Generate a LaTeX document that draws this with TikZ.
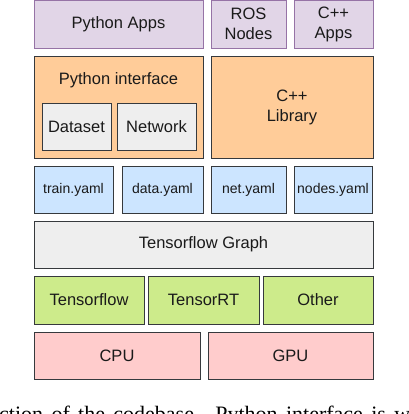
\documentclass[tikz,border=0pt]{standalone}
\usepackage{fontspec}
\setmainfont{Liberation Sans}
\newfontfamily\capserif{Liberation Serif}
\definecolor{purfill}{HTML}{E1D5E7}
\definecolor{purline}{HTML}{9673A6}
\definecolor{orafill}{HTML}{FFCC99}
\definecolor{darkline}{HTML}{36393D}
\definecolor{greyfill}{HTML}{EEEEEE}
\definecolor{bluefill}{HTML}{CCE5FF}
\definecolor{greenfill}{HTML}{CDEB8B}
\definecolor{redfill}{HTML}{FFCCCC}
\definecolor{txt}{HTML}{1A1A1A}
\tikzset{
  blk/.style={draw=darkline, line width=0.9pt, inner sep=0pt, align=center, text=txt,
    font=\fontsize{16.5}{20}\selectfont},
  purbox/.style={blk, draw=purline, fill=purfill},
  orabox/.style={blk, fill=orafill},
  greybox/.style={blk, fill=greyfill},
  bluebox/.style={blk, fill=bluefill, font=\fontsize{14}{17}\selectfont},
  greenbox/.style={blk, fill=greenfill},
  redbox/.style={blk, fill=redfill},
}
\begin{document}
\begin{tikzpicture}[x=1pt,y=-1pt]
\useasboundingbox (0,0) rectangle (408,414);
\clip (0,0) rectangle (408,414);
% row 1
\node[purbox, minimum width=169pt, minimum height=47.5pt] (pyapps) at (118.5,24.25) {Python Apps};
\node[purbox, minimum width=75pt, minimum height=47.5pt] (ros) at (248.5,24.25) {ROS\\Nodes};
\node[purbox, minimum width=79pt, minimum height=47.5pt] (cppapps) at (333.5,24.25) {C++\\Apps};
% row 2
\node[orabox, minimum width=169pt, minimum height=102pt] (pyif) at (118.5,107) {};
\node[blk, draw=none] (pyiflabel) at (118.5,80) {Python interface};
\node[greybox, minimum width=69pt, minimum height=47pt] (dataset) at (76.5,126.5) {Dataset};
\node[greybox, minimum width=79pt, minimum height=47pt] (network) at (156.5,126.5) {Network};
\node[orabox, minimum width=162pt, minimum height=102pt] (cpplib) at (292,107) {C++\\Library};
% row 3
\node[bluebox, minimum width=79pt, minimum height=47pt] (train) at (73.5,189.5) {train.yaml};
\node[bluebox, minimum width=81pt, minimum height=47pt] (data) at (162.5,189.5) {data.yaml};
\node[bluebox, minimum width=75pt, minimum height=47pt] (net) at (248.5,189.5) {net.yaml};
\node[bluebox, minimum width=78pt, minimum height=47pt] (nodes) at (333,189.5) {nodes.yaml};
% row 4
\node[greybox, minimum width=339pt, minimum height=47pt] (tfgraph) at (203.5,244.5) {Tensorflow Graph};
% row 5
\node[greenbox, minimum width=110pt, minimum height=48pt] (tf) at (89,300) {Tensorflow};
\node[greenbox, minimum width=111pt, minimum height=48pt] (trt) at (203.5,300) {TensorRT};
\node[greenbox, minimum width=110pt, minimum height=48pt] (other) at (318,300) {Other};
% row 6
\node[redbox, minimum width=166pt, minimum height=47pt] (cpu) at (117,355.5) {CPU};
\node[redbox, minimum width=165pt, minimum height=47pt] (gpu) at (290.5,355.5) {GPU};
% caption fragment
\node[anchor=base west, inner sep=0pt, font=\capserif\fontsize{22}{26}\selectfont] (cap) at (-1,421) {\makebox[411pt][s]{ction of the codebase. Python interface is w}};
\end{tikzpicture}
\end{document}
